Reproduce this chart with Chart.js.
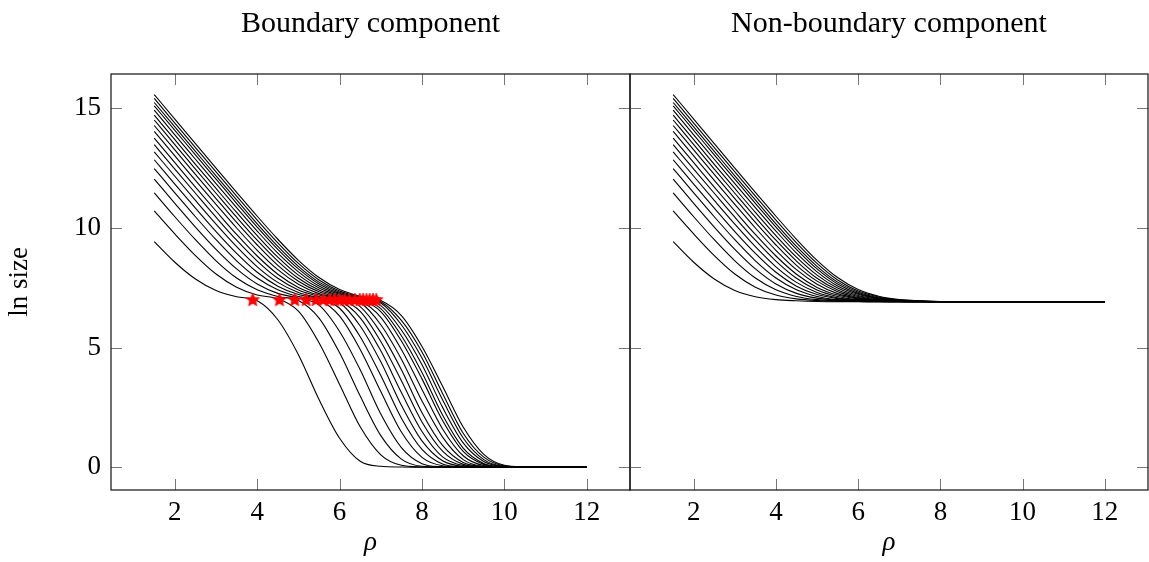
<!DOCTYPE html>
<html>
<head>
<meta charset="utf-8">
<script src="https://cdn.jsdelivr.net/npm/chart.js@4.4.1/dist/chart.umd.min.js"></script>
<style>
  html, body { margin: 0; padding: 0; background: #fff; }
  #left { position: absolute; left: 0; top: 0; width: 640px; height: 562px; }
  #right { position: absolute; left: 620px; top: 0; width: 529px; height: 562px; }
</style>
</head>
<body>
<div id="left"><canvas id="boundaryChart"></canvas></div>
<div id="right"><canvas id="interiorChart"></canvas></div>

<script>
const rho = [1.5, 2, 2.5, 3, 3.5, 4, 4.5, 5, 5.5, 6, 6.5, 7, 7.5, 8, 8.5, 9, 9.5, 10, 10.5, 11, 11.5, 12];

// ln size of the boundary component, one row per curve (bottom curve first)
const boundaryLn = [
  [9.42, 8.56, 7.86, 7.38, 7.12, 6.95, 6.16, 4.70, 2.83, 1.21, 0.25, 0.04, 0.01, 0, 0, 0, 0, 0, 0, 0, 0, 0],
  [10.70, 9.74, 8.84, 8.07, 7.52, 7.19, 7.03, 6.52, 5.20, 3.46, 1.69, 0.52, 0.08, 0.01, 0, 0, 0, 0, 0, 0, 0, 0],
  [11.46, 10.46, 9.50, 8.62, 7.90, 7.41, 7.13, 6.96, 6.23, 4.78, 2.97, 1.32, 0.34, 0.04, 0.01, 0, 0, 0, 0, 0, 0, 0],
  [12.03, 11.02, 10.03, 9.10, 8.28, 7.65, 7.26, 7.06, 6.77, 5.67, 4.07, 2.22, 0.82, 0.15, 0.02, 0, 0, 0, 0, 0, 0, 0],
  [12.47, 11.46, 10.46, 9.50, 8.62, 7.90, 7.41, 7.13, 6.98, 6.31, 4.92, 3.16, 1.47, 0.41, 0.06, 0.01, 0, 0, 0, 0, 0, 0],
  [12.84, 11.82, 10.82, 9.84, 8.93, 8.14, 7.56, 7.21, 7.04, 6.64, 5.45, 3.83, 2.05, 0.75, 0.14, 0.02, 0, 0, 0, 0, 0, 0],
  [13.17, 12.15, 11.14, 10.15, 9.21, 8.37, 7.72, 7.30, 7.08, 6.87, 5.90, 4.40, 2.59, 1.10, 0.27, 0.04, 0.01, 0, 0, 0, 0, 0],
  [13.47, 12.45, 11.44, 10.44, 9.48, 8.61, 7.89, 7.40, 7.13, 6.95, 6.24, 4.86, 3.12, 1.49, 0.43, 0.07, 0.01, 0, 0, 0, 0, 0],
  [13.74, 12.72, 11.70, 10.70, 9.72, 8.82, 8.06, 7.51, 7.19, 7.03, 6.51, 5.25, 3.61, 1.89, 0.67, 0.12, 0.02, 0, 0, 0, 0, 0],
  [14.02, 13.00, 11.98, 10.98, 9.99, 9.06, 8.25, 7.64, 7.25, 7.06, 6.71, 5.62, 4.07, 2.28, 0.91, 0.20, 0.03, 0, 0, 0, 0, 0],
  [14.27, 13.25, 12.23, 11.22, 10.22, 9.28, 8.43, 7.77, 7.33, 7.09, 6.88, 5.95, 4.51, 2.77, 1.26, 0.32, 0.04, 0.01, 0, 0, 0, 0],
  [14.50, 13.47, 12.45, 11.44, 10.44, 9.48, 8.61, 7.89, 7.40, 7.13, 6.95, 6.26, 4.92, 3.25, 1.60, 0.48, 0.07, 0.01, 0, 0, 0, 0],
  [14.70, 13.68, 12.65, 11.64, 10.64, 9.67, 8.77, 8.02, 7.48, 7.17, 7.01, 6.50, 5.27, 3.69, 1.95, 0.66, 0.12, 0.02, 0, 0, 0, 0],
  [14.91, 13.88, 12.86, 11.84, 10.84, 9.86, 8.94, 8.16, 7.57, 7.22, 7.04, 6.62, 5.49, 3.96, 2.18, 0.80, 0.16, 0.02, 0, 0, 0, 0],
  [15.09, 14.07, 13.04, 12.03, 11.02, 10.03, 9.10, 8.28, 7.65, 7.26, 7.06, 6.75, 5.73, 4.28, 2.50, 1.02, 0.24, 0.03, 0, 0, 0, 0],
  [15.23, 14.21, 13.19, 12.17, 11.16, 10.16, 9.22, 8.39, 7.73, 7.31, 7.08, 6.86, 5.95, 4.56, 2.82, 1.22, 0.32, 0.04, 0.01, 0, 0, 0],
  [15.40, 14.37, 13.35, 12.33, 11.32, 10.32, 9.37, 8.51, 7.82, 7.36, 7.11, 6.91, 6.13, 4.81, 3.08, 1.42, 0.42, 0.06, 0.01, 0, 0, 0],
  [15.56, 14.54, 13.51, 12.49, 11.48, 10.48, 9.52, 8.64, 7.92, 7.42, 7.14, 6.96, 6.33, 5.04, 3.38, 1.68, 0.54, 0.08, 0.01, 0, 0, 0]
];

// ln size of the non-boundary component
const interiorLn = [
  [9.42, 8.56, 7.86, 7.38, 7.12, 7.00, 6.95, 6.92, 6.91, 6.91, 6.91, 6.91, 6.91, 6.91, 6.91, 6.91, 6.91, 6.91, 6.91, 6.91, 6.91, 6.91],
  [10.70, 9.74, 8.84, 8.07, 7.52, 7.19, 7.03, 6.96, 6.93, 6.92, 6.91, 6.91, 6.91, 6.91, 6.91, 6.91, 6.91, 6.91, 6.91, 6.91, 6.91, 6.91],
  [11.46, 10.46, 9.50, 8.62, 7.90, 7.41, 7.13, 7.00, 6.95, 6.92, 6.91, 6.91, 6.91, 6.91, 6.91, 6.91, 6.91, 6.91, 6.91, 6.91, 6.91, 6.91],
  [12.03, 11.02, 10.03, 9.10, 8.28, 7.65, 7.26, 7.06, 6.97, 6.93, 6.92, 6.91, 6.91, 6.91, 6.91, 6.91, 6.91, 6.91, 6.91, 6.91, 6.91, 6.91],
  [12.47, 11.46, 10.46, 9.50, 8.62, 7.90, 7.41, 7.13, 7.00, 6.95, 6.92, 6.91, 6.91, 6.91, 6.91, 6.91, 6.91, 6.91, 6.91, 6.91, 6.91, 6.91],
  [12.84, 11.82, 10.82, 9.84, 8.93, 8.14, 7.56, 7.21, 7.04, 6.96, 6.93, 6.92, 6.91, 6.91, 6.91, 6.91, 6.91, 6.91, 6.91, 6.91, 6.91, 6.91],
  [13.17, 12.15, 11.14, 10.15, 9.21, 8.37, 7.72, 7.30, 7.08, 6.98, 6.94, 6.92, 6.91, 6.91, 6.91, 6.91, 6.91, 6.91, 6.91, 6.91, 6.91, 6.91],
  [13.47, 12.45, 11.44, 10.44, 9.48, 8.61, 7.89, 7.40, 7.13, 7.00, 6.95, 6.92, 6.91, 6.91, 6.91, 6.91, 6.91, 6.91, 6.91, 6.91, 6.91, 6.91],
  [13.74, 12.72, 11.70, 10.70, 9.72, 8.82, 8.06, 7.51, 7.19, 7.03, 6.96, 6.93, 6.92, 6.91, 6.91, 6.91, 6.91, 6.91, 6.91, 6.91, 6.91, 6.91],
  [14.02, 13.00, 11.98, 10.98, 9.99, 9.06, 8.25, 7.64, 7.25, 7.06, 6.97, 6.93, 6.92, 6.91, 6.91, 6.91, 6.91, 6.91, 6.91, 6.91, 6.91, 6.91],
  [14.27, 13.25, 12.23, 11.22, 10.22, 9.28, 8.43, 7.77, 7.33, 7.09, 6.99, 6.94, 6.92, 6.91, 6.91, 6.91, 6.91, 6.91, 6.91, 6.91, 6.91, 6.91],
  [14.50, 13.47, 12.45, 11.44, 10.44, 9.48, 8.61, 7.89, 7.40, 7.13, 7.00, 6.95, 6.92, 6.91, 6.91, 6.91, 6.91, 6.91, 6.91, 6.91, 6.91, 6.91],
  [14.70, 13.68, 12.65, 11.64, 10.64, 9.67, 8.77, 8.02, 7.48, 7.17, 7.02, 6.95, 6.93, 6.92, 6.91, 6.91, 6.91, 6.91, 6.91, 6.91, 6.91, 6.91],
  [14.91, 13.88, 12.86, 11.84, 10.84, 9.86, 8.94, 8.16, 7.57, 7.22, 7.04, 6.96, 6.93, 6.92, 6.91, 6.91, 6.91, 6.91, 6.91, 6.91, 6.91, 6.91],
  [15.09, 14.07, 13.04, 12.03, 11.02, 10.03, 9.10, 8.28, 7.65, 7.26, 7.06, 6.97, 6.93, 6.92, 6.91, 6.91, 6.91, 6.91, 6.91, 6.91, 6.91, 6.91],
  [15.23, 14.21, 13.19, 12.17, 11.16, 10.16, 9.22, 8.39, 7.73, 7.31, 7.08, 6.98, 6.94, 6.92, 6.91, 6.91, 6.91, 6.91, 6.91, 6.91, 6.91, 6.91],
  [15.40, 14.37, 13.35, 12.33, 11.32, 10.32, 9.37, 8.51, 7.82, 7.36, 7.11, 6.99, 6.94, 6.92, 6.91, 6.91, 6.91, 6.91, 6.91, 6.91, 6.91, 6.91],
  [15.56, 14.54, 13.51, 12.49, 11.48, 10.48, 9.52, 8.64, 7.92, 7.42, 7.14, 7.00, 6.95, 6.92, 6.91, 6.91, 6.91, 6.91, 6.91, 6.91, 6.91, 6.91]
];

// red stars where each boundary curve leaves the plateau
const starRho = [3.89, 4.54, 4.91, 5.19, 5.43, 5.60, 5.76, 5.88, 6.00, 6.12, 6.24, 6.37, 6.49, 6.57, 6.65, 6.73, 6.81, 6.89];
const starLn = [6.98, 6.98, 6.98, 6.98, 6.98, 6.98, 6.98, 6.98, 6.98, 6.98, 6.98, 6.98, 6.98, 6.98, 6.98, 6.98, 6.98, 6.98];

const xTicks = [2, 4, 6, 8, 10, 12];
const yTicks = [0, 5, 10, 15];

const serif = "'Liberation Serif', 'DejaVu Serif', serif";

function starMark(r) {
  const c = document.createElement('canvas');
  c.width = c.height = 2 * r + 2;
  const g = c.getContext('2d');
  g.beginPath();
  for (let i = 0; i < 10; i++) {
    const a = -Math.PI / 2 + i * Math.PI / 5;
    const rr = i % 2 ? r * 0.45 : r;
    g.lineTo(r + 1 + rr * Math.cos(a), r + 1 + rr * Math.sin(a));
  }
  g.closePath();
  g.fillStyle = '#ff0000';
  g.fill();
  g.strokeStyle = '#ff0000';
  g.lineWidth = 0.8;
  g.stroke();
  return c;
}

function lineSets(rows) {
  return rows.map(vals => ({
    data: rho.map((r, i) => ({x: r, y: vals[i]})),
    borderColor: '#000',
    borderWidth: 1.1,
    pointRadius: 0,
    cubicInterpolationMode: 'monotone',
    fill: false
  }));
}

// inner tick marks on all four sides plus the frame, like pgfplots
const frameTicks = {
  id: 'frameTicks',
  afterDraw(chart) {
    const {ctx, chartArea: a, scales: {x, y}} = chart;
    ctx.save();
    ctx.strokeStyle = '#777';
    ctx.lineWidth = 1;
    ctx.beginPath();
    xTicks.forEach(v => {
      const px = Math.round(x.getPixelForValue(v)) + 0.5;
      ctx.moveTo(px, a.bottom); ctx.lineTo(px, a.bottom - 11);
      ctx.moveTo(px, a.top); ctx.lineTo(px, a.top + 11);
    });
    yTicks.forEach(v => {
      const py = Math.round(y.getPixelForValue(v)) + 0.5;
      ctx.moveTo(a.left, py); ctx.lineTo(a.left + 11, py);
      ctx.moveTo(a.right, py); ctx.lineTo(a.right - 11, py);
    });
    ctx.stroke();
    ctx.strokeStyle = '#111';
    ctx.lineWidth = 1.2;
    ctx.strokeRect(a.left, a.top, a.right - a.left, a.bottom - a.top);
    ctx.restore();
  }
};

function axes(showY) {
  return {
    x: {
      type: 'linear', min: 0.45, max: 13.05,
      afterBuildTicks: s => { s.ticks = xTicks.map(v => ({value: v})); },
      afterFit: s => { s.height = 72; },
      grid: {display: false, drawTicks: false},
      border: {display: false},
      ticks: {color: '#000', font: {family: serif, size: 27}, padding: 7, maxRotation: 0, autoSkip: false},
      title: {display: true, text: 'ρ', color: '#000', font: {family: serif, size: 27, style: 'italic'}, padding: {top: 0, bottom: 3}}
    },
    y: {
      type: 'linear', min: -0.95, max: 16.42, display: showY,
      afterBuildTicks: s => { s.ticks = yTicks.map(v => ({value: v})); },
      afterFit: s => { s.width = showY ? 111 : 0; },
      grid: {display: false, drawTicks: false},
      border: {display: false},
      ticks: {color: '#000', font: {family: serif, size: 27}, padding: 10},
      title: {display: true, text: 'ln size', color: '#000', font: {family: serif, size: 27}, padding: {top: 4, bottom: 0}}
    }
  };
}

function titleOpts(text) {
  return {
    display: true, text: text, fullSize: false, color: '#000',
    font: {family: serif, size: 30, weight: 'normal'},
    padding: {top: 6, bottom: 32}
  };
}

new Chart(document.getElementById('boundaryChart'), {
  type: 'line',
  data: {
    datasets: [{
      data: starRho.map((r, i) => ({x: r, y: starLn[i]})),
      showLine: false,
      pointStyle: starMark(7),
      pointRadius: 7,
      borderColor: '#ff0000',
      backgroundColor: '#ff0000'
    }].concat(lineSets(boundaryLn))
  },
  options: {
    responsive: true, maintainAspectRatio: false, animation: false, events: [],
    layout: {padding: {left: 0, right: 10, top: 0, bottom: 0}},
    plugins: {legend: {display: false}, tooltip: {enabled: false}, title: titleOpts('Boundary component')},
    scales: axes(true)
  },
  plugins: [frameTicks]
});

new Chart(document.getElementById('interiorChart'), {
  type: 'line',
  data: {datasets: lineSets(interiorLn)},
  options: {
    responsive: true, maintainAspectRatio: false, animation: false, events: [],
    layout: {padding: {left: 10, right: 1, top: 0, bottom: 0}},
    plugins: {legend: {display: false}, tooltip: {enabled: false}, title: titleOpts('Non-boundary component')},
    scales: axes(false)
  },
  plugins: [frameTicks]
});
</script>
</body>
</html>
